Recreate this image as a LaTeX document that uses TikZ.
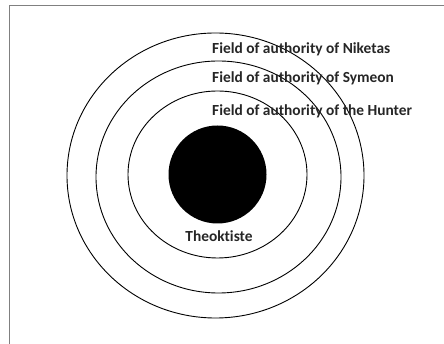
\documentclass[tikz,border=0pt]{standalone}
\usepackage{fontspec}
\setmainfont{Carlito}[Ligatures=NoCommon]
\usetikzlibrary{positioning}

\begin{document}
\begin{tikzpicture}[
    x=1pt, y=1pt,
    ring/.style={draw, line width=0.9pt},
    field/.style={anchor=west, inner sep=0pt, text=black!85, font=\bfseries\fontsize{15.4}{17}\selectfont},
    frame/.style={draw=gray, line width=1pt}
]
    \useasboundingbox (0,0) rectangle (444,344);
    \draw[frame] (9,-5) -- (9,338) -- (450,338);

    % the rings round Theoktiste
    \draw[ring] (215.5,168.5) ellipse [x radius=148.5, y radius=142.5];
    \draw[ring] (218.5,167) ellipse [x radius=122.5, y radius=116];
    \draw[ring] (217.5,169.5) ellipse [x radius=89.5, y radius=83.5];
    \fill (217.5,169.5) circle [radius=49];

    \node[field] (niketas) at (212,295) {Field of authority of Niketas};
    \node[field] (symeon) at (212,266) {Field of authority of Symeon};
    \node[field] (hunter) at (212,233) {Field of authority of the Hunter};
    \node[field, anchor=center] (theoktiste) at (219,108) {Theoktiste};
\end{tikzpicture}
\end{document}
